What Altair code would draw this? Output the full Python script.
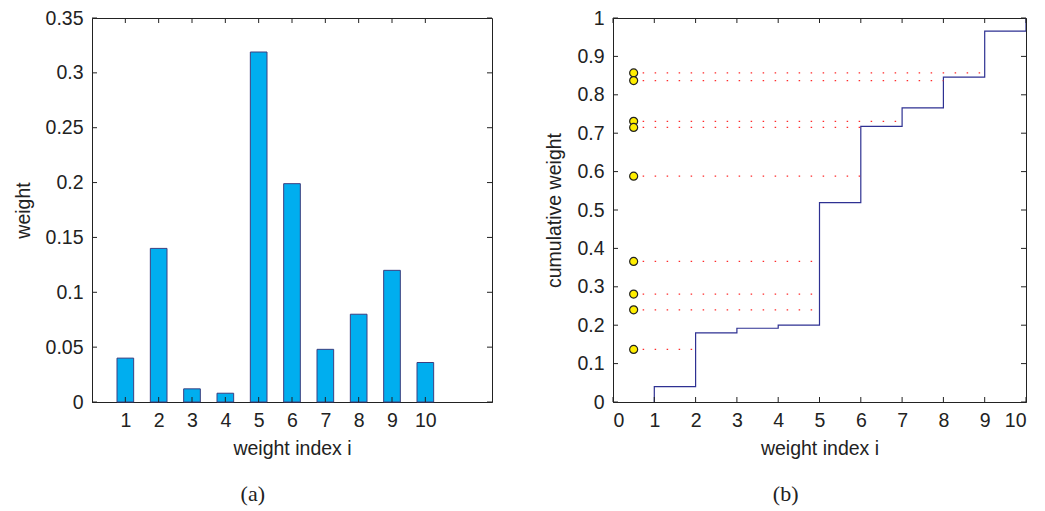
import altair as alt
import numpy as np
import pandas as pd

# weights w_i for indices 1..10
index = [1, 2, 3, 4, 5, 6, 7, 8, 9, 10]
weight = [0.04, 0.14, 0.012, 0.008, 0.319, 0.199, 0.048, 0.08, 0.12, 0.036]

# uniform random draws used for resampling (drawn at x = 0.5)
draws = [0.857, 0.837, 0.731, 0.715, 0.588, 0.366, 0.281, 0.240, 0.137]
draw_x = 0.5

# tick positions
left_x_ticks = index
left_y_ticks = [0, 0.05, 0.1, 0.15, 0.2, 0.25, 0.3, 0.35]
right_x_ticks = [0, 1, 2, 3, 4, 5, 6, 7, 8, 9, 10]
right_y_ticks = [0, 0.1, 0.2, 0.3, 0.4, 0.5, 0.6, 0.7, 0.8, 0.9, 1]

FONT = "Liberation Sans"
FS = 19.5
TXT = "#222222"
BAR_FILL = "#00aeef"
BAR_EDGE = "#3c3f80"
STEP = "#2e3192"

LW, LH = 400, 384
RW, RH = 413, 384

cum = np.cumsum(weight)

bars_df = pd.DataFrame({"i": index, "w": weight})
step_df = pd.DataFrame({"x": [index[0]] + index, "c": [0.0] + list(cum)})
hit = [index[int(np.searchsorted(cum, u))] for u in draws]
draw_df = pd.DataFrame({"x": [draw_x] * len(draws), "x2": hit, "u": draws})


def xaxis(vals):
    return alt.Axis(values=vals, labelExpr="format(datum.value, '~g')",
                    labelPadding=9, titlePadding=10, labelOverlap=False)


def yaxis(vals):
    return alt.Axis(values=vals, labelExpr="format(datum.value, '~g')",
                    labelPadding=9, titlePadding=12, labelOverlap=False)


class Panel:
    """Shared x/y channel definitions for every layer of one boxed panel."""

    def __init__(self, xscale, yscale, xticks, yticks, xtitle, ytitle, W, H):
        self.xs, self.ys = xscale, yscale
        self.xt, self.yt = xticks, yticks
        self.xtitle, self.ytitle = xtitle, ytitle
        self.W, self.H = W, H

    def X(self, field):
        return alt.X(field, scale=self.xs, title=self.xtitle, axis=xaxis(self.xt))

    def Y(self, field):
        return alt.Y(field, scale=self.ys, title=self.ytitle, axis=yaxis(self.yt))

    def ticks(self, L=5):
        """Inward ticks on all four sides."""
        xd = pd.DataFrame({"t": self.xt})
        yd = pd.DataFrame({"t": self.yt})
        style = dict(color="#222222", strokeWidth=1)
        W, H = self.W, self.H
        return [
            alt.Chart(xd).mark_rule(**style).encode(
                x=self.X("t:Q"), y=alt.value(H - L), y2=alt.value(H)),
            alt.Chart(xd).mark_rule(**style).encode(
                x=self.X("t:Q"), y=alt.value(0), y2=alt.value(L)),
            alt.Chart(yd).mark_rule(**style).encode(
                y=self.Y("t:Q"), x=alt.value(0), x2=alt.value(L)),
            alt.Chart(yd).mark_rule(**style).encode(
                y=self.Y("t:Q"), x=alt.value(W - L), x2=alt.value(W)),
        ]


def caption(text):
    return alt.TitleParams(text, orient="bottom", anchor="middle", frame="bounds",
                           font="Liberation Serif", fontSize=22, fontWeight="normal",
                           color=TXT, offset=26)


# ---- (a) weights as bars ----
pa = Panel(alt.Scale(domain=[0, 12], nice=False, zero=False),
           alt.Scale(domain=[0, 0.35], nice=False),
           left_x_ticks, left_y_ticks, "weight index i", "weight", LW, LH)

bars = alt.Chart(bars_df).transform_calculate(
    x0="datum.i - 0.25", x1="datum.i + 0.25", base="0"
).mark_bar(fill=BAR_FILL, stroke=BAR_EDGE, strokeWidth=1).encode(
    x=pa.X("x0:Q"), x2="x1:Q", y=pa.Y("w:Q"), y2="base:Q",
)

left = alt.layer(bars, *pa.ticks()).properties(width=LW, height=LH, title=caption("(a)"))

# ---- (b) cumulative weights with resampling draws ----
pb = Panel(alt.Scale(domain=[0, 10], nice=False, zero=False),
           alt.Scale(domain=[0, 1], nice=False),
           right_x_ticks, right_y_ticks, "weight index i", "cumulative weight", RW, RH)

step = alt.Chart(step_df).mark_line(interpolate="step-after", color=STEP,
                                    strokeWidth=1.2, clip=True).encode(
    x=pb.X("x:Q"), y=pb.Y("c:Q"))

guides = alt.Chart(draw_df).mark_rule(color="#ff2a2a", strokeWidth=1.3,
                                      strokeDash=[1.5, 10.5], strokeDashOffset=3).encode(
    x=pb.X("x:Q"), x2="x2:Q", y=pb.Y("u:Q"))

dots = alt.Chart(draw_df).mark_point(filled=True, fill="#ffee00", stroke="#222222",
                                     strokeWidth=1.2, size=64, opacity=1).encode(
    x=pb.X("x:Q"), y=pb.Y("u:Q"))

right = alt.layer(step, guides, dots, *pb.ticks()).properties(
    width=RW, height=RH, title=caption("(b)"))

chart = alt.hconcat(left, right, spacing=51).properties(
    padding={"left": 12, "top": 7, "right": 0, "bottom": 0}
).configure_view(
    stroke="#222222", strokeWidth=1
).configure_axis(
    labelFont=FONT, labelFontSize=FS, labelColor=TXT,
    titleFont=FONT, titleFontSize=FS, titleColor=TXT, titleFontWeight="normal",
    ticks=False, grid=False, domainColor="#222222", domainWidth=1,
)

chart.save("out.html", embed_options={"renderer": "svg", "actions": False})
